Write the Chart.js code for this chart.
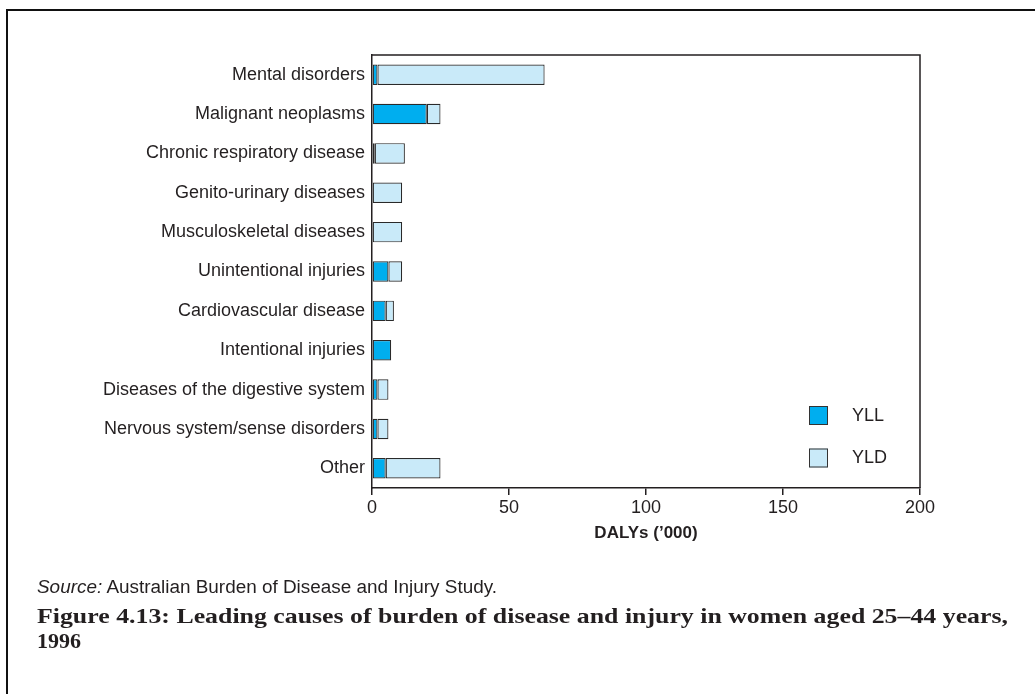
<!DOCTYPE html>
<html>
<head>
<meta charset="utf-8">
<script src="https://cdn.jsdelivr.net/npm/chart.js"></script>
<style>
  html, body { margin: 0; padding: 0; background: #fff; }
  #wrap { position: relative; width: 1035px; height: 694px; overflow: hidden; }
  #frame { position: absolute; left: 6px; top: 9px; width: 1100px; height: 800px;
           border-left: 2px solid #111; border-top: 2px solid #111; }
  #chartBox { position: absolute; left: 0; top: 0; width: 1035px; height: 694px; }
  #source { position: absolute; left: 37px; top: 577px; font: 18px "Liberation Sans", Arial, sans-serif; color: #231f20; white-space: nowrap; transform-origin: left center; }
  #title { position: absolute; left: 37px; top: 603px; font: bold 22px "Liberation Serif", "Times New Roman", serif;
           color: #231f20; line-height: 25px; }
  #title span { display: inline-block; transform-origin: left center; white-space: nowrap; }
</style>
</head>
<body>
<div id="wrap">
  <div id="frame"></div>
  <div id="chartBox"><canvas id="myChart"></canvas></div>
  <div id="source"><i>Source:</i> Australian Burden of Disease and Injury Study.</div>
  <div id="title"><span id="t1">Figure 4.13: Leading causes of burden of disease and injury in women aged 25–44 years,</span><br><span id="t2">1996</span></div>
</div>
<script>
var causes = ["Mental disorders", "Malignant neoplasms", "Chronic respiratory disease",
  "Genito-urinary diseases", "Musculoskeletal diseases", "Unintentional injuries",
  "Cardiovascular disease", "Intentional injuries", "Diseases of the digestive system",
  "Nervous system/sense disorders", "Other"];
var yll = [2, 20, 1, 0, 0, 6, 5, 7, 2, 2, 5];
var yld = [61, 5, 11, 11, 11, 5, 3, 0, 4, 4, 20];
var xTicks = [0, 50, 100, 150, 200];

var ink = "#231f20";
var sans = "'Liberation Sans', Arial, sans-serif";

// top and right lines of the plot box
var boxLines = {
  id: "boxLines",
  afterDraw: function(chart){
    var a = chart.chartArea, c = chart.ctx;
    c.save();
    c.strokeStyle = ink;
    c.lineWidth = 1.5;
    c.beginPath();
    c.moveTo(a.left, a.top);
    c.lineTo(a.right, a.top);
    c.lineTo(a.right, a.bottom);
    c.stroke();
    c.restore();
  }
};

// legend drawn inside the plot, bottom right
var innerLegend = {
  id: "innerLegend",
  afterDraw: function(chart){
    var a = chart.chartArea, c = chart.ctx;
    c.save();
    c.font = "18px " + sans;
    c.textBaseline = "middle";
    chart.data.datasets.forEach(function(ds, i){
      var x = a.right - 111, y = a.bottom - 82 + i * 42.5;
      c.fillStyle = ds.backgroundColor;
      c.fillRect(x, y, 19, 19);
      c.strokeStyle = "#333";
      c.lineWidth = 1;
      c.strokeRect(x + 0.5, y + 0.5, 18, 18);
      c.fillStyle = ink;
      c.fillText(ds.label, x + 43, y + 10);
    });
    c.restore();
  }
};

let myChart = document.getElementById("myChart").getContext("2d");

let barChart = new Chart(myChart, {
  type: "bar",
  data: {
    labels: causes,
    datasets: [{
      label: "YLL",
      data: yll,
      backgroundColor: "#00aeef",
      borderColor: "#2a2a2a",
      borderWidth: 1.2,
      borderSkipped: false,
      barPercentage: 0.52,
      categoryPercentage: 1
    }, {
      label: "YLD",
      data: yld,
      backgroundColor: "#c9eaf9",
      borderColor: "#2a2a2a",
      borderWidth: 1.2,
      borderSkipped: false,
      barPercentage: 0.52,
      categoryPercentage: 1
    }]
  },
  options: {
    indexAxis: "y",
    responsive: true,
    maintainAspectRatio: false,
    animation: false,
    layout: { padding: { top: 55, right: 115, bottom: 146, left: 0 } },
    plugins: { legend: { display: false }, tooltip: { enabled: false } },
    scales: {
      y: {
        stacked: true,
        grid: { display: false, drawTicks: false },
        border: { display: true, color: ink, width: 1.5 },
        ticks: { color: ink, padding: 7, font: { family: sans, size: 18 } },
        afterFit: function(s){ s.width = 372; }
      },
      x: {
        stacked: true,
        min: 0,
        max: 200,
        afterBuildTicks: function(s){ s.ticks = xTicks.map(function(v){ return { value: v }; }); },
        grid: { drawOnChartArea: false, drawTicks: true, tickLength: 7, color: ink, lineWidth: 1.5 },
        border: { display: true, color: ink, width: 1.5 },
        ticks: { color: ink, padding: 2, font: { family: sans, size: 18 } },
        title: { display: true, text: "DALYs (’000)", color: ink, padding: { top: 3, bottom: 4 },
                 font: { family: sans, size: 17, weight: "bold" } }
      }
    }
  },
  plugins: [boxLines, innerLegend]
});

// fit text lines to the printed widths
function fitWidth(el, target){
  var w = el.getBoundingClientRect().width;
  el.style.transform = "scaleX(" + (target / w) + ")";
}
fitWidth(document.getElementById("t1"), 971);
fitWidth(document.getElementById("source"), 460);
</script>
</body>
</html>
